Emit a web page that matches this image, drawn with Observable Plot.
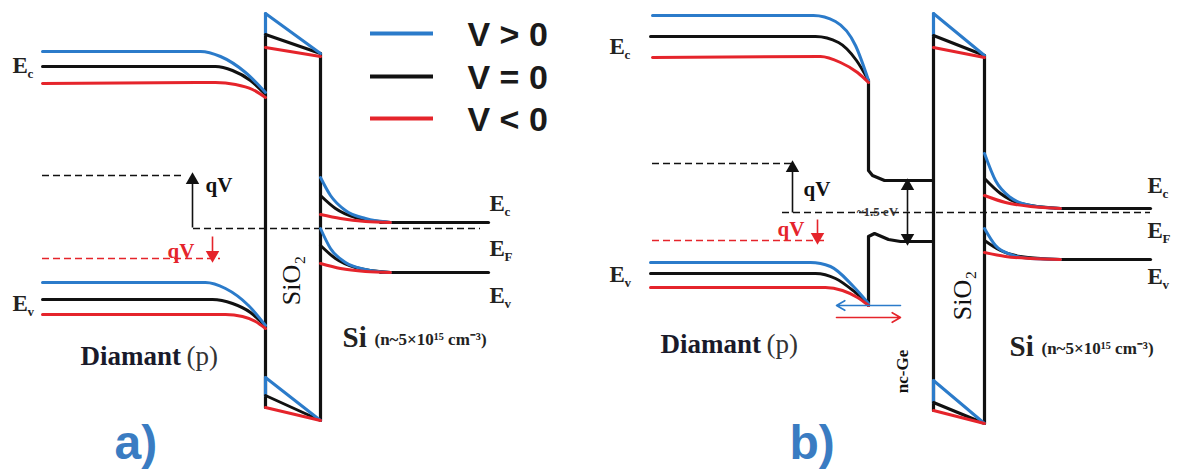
<!DOCTYPE html>
<html><head><meta charset="utf-8">
<script src="https://cdn.jsdelivr.net/npm/d3@7"></script>
<script src="https://cdn.jsdelivr.net/npm/@observablehq/plot@0.6"></script>
<style>body{margin:0;background:#fff}</style>
</head><body><div id="chart"></div>
<script>
const BLUE = "#2b7bca", BLACK = "#111111", RED = "#e5242b";
const series = ["V > 0", "V = 0", "V < 0"];
const seriesColor = [BLUE, BLACK, RED];

// ---- Panel a: band edges (position along device, energy) for V>0, V=0, V<0
const aDiamEc = [
  [[42,51],[200,51],[220,56],[245,72],[265,92]],
  [[42,66],[215,66],[232,70],[250,80],[265,94]],
  [[42,83],[215,82],[235,84],[252,89],[265,97]]
];
const aDiamEv = [
  [[42,282],[205,282],[225,288],[248,305],[265,325]],
  [[42,299],[212,299],[232,303],[250,312],[265,326]],
  [[42,314],[225,314],[242,316],[255,321],[265,328]]
];
const aSiEc = [
  [[320,177],[330,195],[345,210],[365,218],[390,222]],
  [[320,195],[335,208],[355,217],[390,222]],
  [[320,214],[340,218],[365,221],[390,222]]
];
const aSiEv = [
  [[320,228],[330,248],[345,262],[365,269],[390,272]],
  [[320,245],[335,258],[355,267],[390,272]],
  [[320,263],[340,268],[365,271],[390,272]]
];
const aOxTop = [ [[265,13],[320,53]], [[265,34],[320,53]], [[265,47],[320,56]] ];
const aOxBot = [ [[265,377],[320,420]], [[265,395],[320,420]], [[265,407],[320,420]] ];

// ---- Panel b
const bDiamEc = [
  [[652,15],[813,15],[835,21],[855,45],[868,80]],
  [[650,36],[815,36],[838,42],[856,60],[868,80]],
  [[652,57],[820,56],[840,62],[857,72],[868,82]]
];
const bDiamEv = [
  [[650,262],[810,262],[830,266],[852,285],[868,303]],
  [[650,273],[815,273],[835,278],[855,292],[868,303]],
  [[650,287],[825,287],[842,290],[857,297],[868,305]]
];
const bSiEc = [
  [[984,153],[995,180],[1010,197],[1030,205],[1060,208]],
  [[984,178],[1000,193],[1020,203],[1060,208]],
  [[984,195],[1005,202],[1030,206],[1060,208]]
];
const bSiEv = [
  [[984,228],[995,245],[1010,254],[1030,258],[1060,259]],
  [[984,240],[1000,250],[1020,256],[1060,259]],
  [[984,252],[1005,256],[1030,258],[1060,259]]
];
const bOxTop = [ [[933,13],[984,55]], [[933,35],[984,55]], [[933,47],[984,57]] ];
const bOxBot = [ [[933,380],[984,423]], [[933,402],[984,423]], [[933,410],[984,423]] ];

// ---- Black structure (oxide walls, flat Si bands, nc-Ge well)
const structure = [
  [[265,34],[265,407]], [[320,53],[320,420]],
  [[380,222],[488,222]], [[380,272],[488,272]],
  [[933,35],[933,410]], [[984,55],[984,423]],
  [[1055,208],[1150,208]], [[1055,259],[1150,259]],
  [[868,80],[868,170],[872,175],[884,180],[933,180]],
  [[868,305],[868,236],[874,233],[888,239],[900,241],[933,241]]
];
const blueWallParts = [ [[265,13],[265,34]], [[265,377],[265,395]], [[933,13],[933,35]], [[933,380],[933,402]] ];

// ---- Dashed Fermi levels
const dashLevels = [
  {x1:42, x2:185, y:175, c:BLACK}, {x1:193, x2:480, y:228, c:BLACK}, {x1:42, x2:220, y:258, c:RED},
  {x1:652, x2:795, y:163, c:BLACK}, {x1:782, x2:1150, y:212, c:BLACK}, {x1:652, x2:825, y:240, c:RED}
];
// ---- Arrows with filled heads (qV shifts, ~1.5 eV gap)
const arrows = [
  {x1:192,y1:227,x2:192,y2:175,c:BLACK}, {x1:212,y1:236,x2:212,y2:259,c:RED},
  {x1:792,y1:212,x2:792,y2:163,c:BLACK}, {x1:817,y1:219,x2:817,y2:241,c:RED},
  {x1:907,y1:211,x2:907,y2:181,c:BLACK}, {x1:907,y1:211,x2:907,y2:242,c:BLACK}
];
// ---- Arrows with open heads (carrier flow under nc-Ge)
const openArrows = [
  {x1:900,y1:305,x2:836,y2:305,c:BLUE}, {x1:836,y1:317,x2:900,y2:317,c:RED}
];
// ---- Labels
const eLabels = [
  {x:12, y:72, sub:"c"}, {x:12, y:310, sub:"v"},
  {x:489, y:210, sub:"c"}, {x:489, y:255, sub:"F"}, {x:489, y:302, sub:"v"},
  {x:609, y:53, sub:"c"}, {x:609, y:281, sub:"v"},
  {x:1147, y:192, sub:"c"}, {x:1147, y:237, sub:"F"}, {x:1147, y:283, sub:"v"}
];
const qvLabels = [
  {x:205, y:191, c:BLACK}, {x:167, y:257, c:RED},
  {x:803, y:195, c:BLACK}, {x:777, y:235, c:RED}
];
const diamantLabels = [{x:80, y:364}, {x:660, y:352}];
const siLabels = [{x:342, y:346}, {x:1009, y:355}];
const sio2Labels = [{x:291, y:280}, {x:962, y:295}];
const panelLabels = [{x:114, y:458, t:"a)"}, {x:789, y:458, t:"b)"}];
const gapLabel = [{x:877, y:211, t:"~1.5 eV"}];
const ncGeLabel = [{x:902, y:371, t:"nc-Ge"}];
const legendRows = series.map((s, i) => ({s, i, c: seriesColor[i]}));
const legendY = [33, 76, 118];

// ---- Build line rows
function rows(groups, tag, colorFn) {
  return groups.flatMap((pts, i) => pts.map(([x, y]) => ({id: tag + i, x, y, c: colorFn(i)})));
}
const bandGroups = {aDiamEc, aDiamEv, aSiEc, aSiEv, bDiamEc, bDiamEv, bSiEc, bSiEv};
const order = [1, 0, 2]; // draw black, then blue, then red
const curveRows = [];
const straightRows = [];
for (const k of order) {
  for (const [name, g] of Object.entries(bandGroups)) curveRows.push(...rows([g[k]], name + k, () => seriesColor[k]));
  for (const [name, g] of Object.entries({aOxTop, aOxBot, bOxTop, bOxBot})) straightRows.push(...rows([g[k]], name + k, () => seriesColor[k]));
}
const structRows = rows(structure, "s", () => BLACK);
const blueWallRows = rows(blueWallParts, "bw", () => BLUE);

// filled arrow heads: shaft ends at head base, triangle centred just behind the tip
const HEAD = 5;
const arrowParts = arrows.map(a => {
  const dx = a.x2 - a.x1, dy = a.y2 - a.y1, L = Math.hypot(dx, dy);
  const ux = dx / L, uy = dy / L;
  return {
    ...a,
    bx: a.x2 - ux * HEAD * 1.6, by: a.y2 - uy * HEAD * 1.6,
    hx: a.x2 - ux * HEAD * 0.9, hy: a.y2 - uy * HEAD * 0.9,
    rot: Math.atan2(dx, -dy) * 180 / Math.PI
  };
});

const SERIF = "'Liberation Serif','Times New Roman',serif";
const SANS = "'Liberation Sans',Arial,sans-serif";

const chart = Plot.plot({
  width: 1182, height: 472, margin: 0,
  x: {domain: [0, 1182], range: [0, 1182], axis: null},
  y: {domain: [0, 472], range: [0, 472], axis: null},
  color: {type: "identity"},
  style: {background: "#fff"},
  marks: [
    Plot.ruleY(dashLevels, {x1: "x1", x2: "x2", y: "y", stroke: "c", strokeWidth: 1.6, strokeDasharray: "7,4"}),
    Plot.line(structRows, {x: "x", y: "y", z: "id", stroke: "c", strokeWidth: 3.2, curve: "linear"}),
    Plot.line(blueWallRows, {x: "x", y: "y", z: "id", stroke: "c", strokeWidth: 3.2, curve: "linear"}),
    Plot.line(straightRows, {x: "x", y: "y", z: "id", stroke: "c", strokeWidth: 3, curve: "linear"}),
    Plot.line(curveRows, {x: "x", y: "y", z: "id", stroke: "c", strokeWidth: 3, curve: "monotone-x"}),
    Plot.link(arrowParts, {x1: "x1", y1: "y1", x2: "bx", y2: "by", stroke: "c", strokeWidth: 1.6}),
    Plot.dot(arrowParts, {x: "hx", y: "hy", symbol: "triangle", r: HEAD, fill: "c", stroke: "none", rotate: "rot"}),
    Plot.arrow(openArrows, {x1: "x1", y1: "y1", x2: "x2", y2: "y2", stroke: "c", strokeWidth: 1.6, headLength: 9}),
    // legend
    Plot.ruleY(legendRows, {x1: 370, x2: 433, y: d => legendY[d.i], stroke: "c", strokeWidth: 4}),
    Plot.text(legendRows, {x: 467, y: d => legendY[d.i] + 12, text: "s", textAnchor: "start", lineAnchor: "bottom", fontSize: 34, fontWeight: "bold", fontFamily: SANS, fill: "#1a1a1a"}),
    // E labels
    Plot.text(eLabels, {x: "x", y: "y", text: () => "E", textAnchor: "start", lineAnchor: "bottom", fontSize: 23, fontWeight: "bold", fontFamily: SERIF, fill: "#222"}),
    Plot.text(eLabels, {x: "x", y: "y", text: "sub", dx: 15, dy: 5, textAnchor: "start", lineAnchor: "bottom", fontSize: 13, fontWeight: "bold", fontFamily: SERIF, fill: "#222"}),
    // qV labels
    Plot.text(qvLabels, {x: "x", y: "y", text: () => "qV", fill: "c", textAnchor: "start", lineAnchor: "bottom", fontSize: 21, fontWeight: "bold", fontFamily: SERIF}),
    // Diamant (p)
    Plot.text(diamantLabels, {x: "x", y: "y", text: () => "Diamant", textAnchor: "start", lineAnchor: "bottom", fontSize: 27, fontWeight: "bold", fontFamily: SERIF, fill: "#1a1a2a"}),
    Plot.text(diamantLabels, {x: "x", y: "y", dx: 106, text: () => "(p)", textAnchor: "start", lineAnchor: "bottom", fontSize: 27, fontFamily: SERIF, fill: "#333"}),
    // Si (n~5x10^15 cm^-3)
    Plot.text(siLabels, {x: "x", y: "y", text: () => "Si", textAnchor: "start", lineAnchor: "bottom", fontSize: 29, fontWeight: "bold", fontFamily: SERIF, fill: "#222"}),
    Plot.text(siLabels, {x: "x", y: "y", dx: 32, dy: -2, text: () => "(n~5×10¹⁵ cm⁻³)", textAnchor: "start", lineAnchor: "bottom", fontSize: 17, fontWeight: "bold", fontFamily: SERIF, fill: "#222"}),
    // SiO2, nc-Ge, gap
    Plot.text(sio2Labels, {x: "x", y: "y", text: () => "SiO₂", rotate: -90, fontSize: 26, fontFamily: SERIF, fill: "#111"}),
    Plot.text(ncGeLabel, {x: "x", y: "y", text: "t", rotate: -90, fontSize: 17, fontWeight: "bold", fontFamily: SERIF, fill: "#111"}),
    Plot.text(gapLabel, {x: "x", y: "y", text: "t", fontSize: 13, fontWeight: "bold", fontFamily: SERIF, fill: "#333"}),
    // panel letters
    Plot.text(panelLabels, {x: "x", y: "y", text: "t", textAnchor: "start", lineAnchor: "bottom", fontSize: 48, fontWeight: "bold", fontFamily: SANS, fill: "#3a7cc2"})
  ]
});
document.getElementById("chart").appendChild(chart);
</script>
</body></html>
